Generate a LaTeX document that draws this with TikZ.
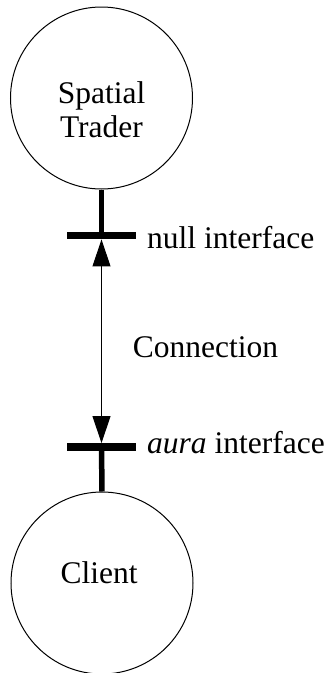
\documentclass[tikz,border=0pt]{standalone}
\usepackage{fontspec}
\setmainfont{Liberation Serif}
\usetikzlibrary{arrows.meta}
\begin{document}
\begin{tikzpicture}[x=1pt,y=-1pt,
  every node/.style={font=\fontsize{31.5}{34}\selectfont},
  entity/.style={draw,circle,line width=1pt,minimum size=182pt,inner sep=0pt},
  bar/.style={fill=black,inner sep=0pt,minimum width=69pt,minimum height=7.5pt},
  stem/.style={line width=5.5pt},
  conn/.style={line width=1pt,{Triangle[length=27pt,width=18pt]}-{Triangle[length=27pt,width=18pt]}},
  lbl/.style={anchor=base west,inner sep=0pt}]
\useasboundingbox (0,0) rectangle (328,673);
\node[entity] (trader) at (101.5,98) {};
\node[anchor=base,inner sep=0pt] (tradertext) at (101.5,103) {Spatial};
\node[anchor=base,inner sep=0pt] (tradertext2) at (101.5,137) {Trader};
\node[entity] (client) at (102,583) {};
\node[anchor=base,inner sep=0pt] (clienttext) at (99,583) {Client};
\node[bar] (nullbar) at (101.5,235.5) {};
\node[bar] (aurabar) at (101.5,447) {};
\draw[stem] (trader.south) -- (nullbar.center);
\draw[stem] (client.north) -- (aurabar.center);
\draw[conn] (nullbar.south) -- (aurabar.north);
\node[lbl] (nulllbl) at (147,248) {null interface};
\node[lbl] (auralbl) at (147,453) {\textit{aura} interface};
\node[anchor=base,inner sep=0pt] (connlbl) at (205.5,357) {Connection};
\end{tikzpicture}
\end{document}
